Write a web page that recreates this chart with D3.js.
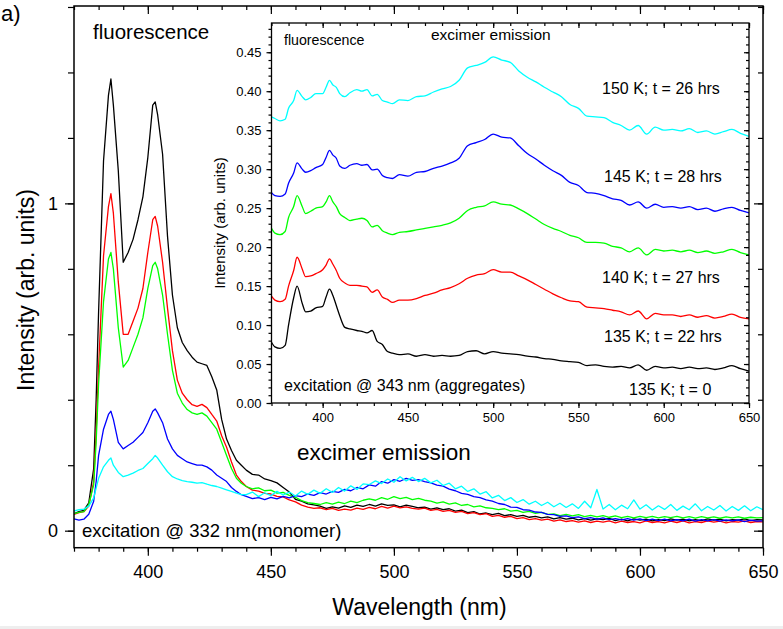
<!DOCTYPE html>
<html lang="en">
<head>
    <meta charset="UTF-8">
    <script src="https://d3js.org/d3.v7.min.js"></script>
    <style>
        body { margin: 0; padding: 0; background: #fff; }
        svg { display: block; font-family: Arial, "Liberation Sans", sans-serif; }
        .axis path { display: none; }
        .axis line { stroke: #000; stroke-width: 1.2; }
        .axis text { fill: #000; }
    </style>
</head>
<body>
<div id="chart"></div>
<script>
    // ---- main plot data (excitation 332 nm) ----
    const mainWl = [
        370,372,374,376,378,379,380,382,384,385,
        386,388,390,392,394,396,398,400,402,403,
        404,406,408,410,412,414,416,418,420,422,
        424,426,428,430,432,434,436,438,
        440,442.5,445,447.5,450,452.5,455,457.5,460,462.5,
        465,467.5,470,472.5,475,477.5,480,482.5,485,487.5,
        490,492.5,495,497.5,500,502.5,505,507.5,510,512.5,
        515,517.5,520,522.5,525,527.5,530,532.5,535,537.5,
        540,542.5,545,547.5,550,552.5,555,557.5,560,562.5,
        565,567.5,570,572.5,575,577.5,580,582.5,585,587.5,
        590,592.5,595,597.5,600,602.5,605,607.5,610,612.5,
        615,617.5,620,622.5,625,627.5,630,632.5,635,637.5,
        640,642.5,645,647.5,650
    ];
    const mainBlack = [
        0.052,0.058,0.062,0.085,0.19,0.40,0.67,1.13,1.33,1.38,
        1.30,1.10,0.82,0.85,0.89,0.95,1.02,1.14,1.30,1.31,
        1.27,1.15,0.90,0.72,0.62,0.575,0.55,0.53,0.515,0.51,
        0.505,0.47,0.43,0.34,0.28,0.245,0.215,0.20,
        0.185,0.172,0.170,0.158,0.153,0.146,0.132,0.118,0.096,0.090,
        0.082,0.079,0.075,0.068,0.073,0.069,0.076,0.071,0.078,0.074,
        0.080,0.075,0.082,0.077,0.079,0.073,0.078,0.074,0.070,0.072,
        0.066,0.070,0.064,0.067,0.060,0.063,0.055,0.058,0.051,0.054,
        0.049,0.053,0.046,0.049,0.044,0.047,0.041,0.044,0.039,0.042,
        0.036,0.040,0.035,0.038,0.033,0.037,0.032,0.036,0.034,0.038,
        0.031,0.035,0.030,0.036,0.032,0.035,0.030,0.034,0.031,0.036,
        0.032,0.035,0.030,0.034,0.031,0.036,0.032,0.035,0.030,0.034,
        0.032,0.036,0.031,0.034,0.033
    ];
    const mainRed = [
        0.05,0.055,0.058,0.075,0.15,0.30,0.50,0.84,0.99,1.03,
        0.97,0.76,0.60,0.60,0.64,0.68,0.74,0.85,0.95,0.96,
        0.93,0.82,0.68,0.55,0.46,0.42,0.40,0.385,0.38,0.386,
        0.376,0.355,0.335,0.29,0.255,0.21,0.17,0.15,
        0.135,0.124,0.121,0.114,0.112,0.105,0.103,0.094,0.088,0.078,
        0.072,0.068,0.070,0.064,0.068,0.062,0.066,0.063,0.069,0.065,
        0.071,0.067,0.074,0.069,0.075,0.070,0.073,0.068,0.066,0.069,
        0.062,0.065,0.059,0.062,0.056,0.059,0.052,0.055,0.049,0.052,
        0.044,0.047,0.041,0.044,0.037,0.040,0.034,0.037,0.032,0.035,
        0.029,0.033,0.028,0.031,0.026,0.030,0.025,0.029,0.026,0.030,
        0.024,0.029,0.025,0.028,0.024,0.030,0.025,0.028,0.024,0.029,
        0.025,0.030,0.024,0.028,0.025,0.030,0.026,0.029,0.024,0.028,
        0.026,0.030,0.025,0.028,0.027
    ];
    const mainGreen = [
        0.052,0.056,0.058,0.08,0.14,0.27,0.45,0.70,0.83,0.85,
        0.80,0.62,0.50,0.52,0.56,0.60,0.65,0.74,0.81,0.82,
        0.80,0.72,0.60,0.49,0.42,0.39,0.37,0.36,0.355,0.36,
        0.35,0.33,0.31,0.27,0.23,0.19,0.16,0.145,
        0.135,0.128,0.131,0.122,0.124,0.115,0.117,0.108,0.102,0.092,
        0.086,0.083,0.080,0.086,0.081,0.087,0.083,0.090,0.086,0.093,
        0.097,0.093,0.101,0.096,0.104,0.098,0.102,0.095,0.099,0.093,
        0.090,0.084,0.088,0.081,0.085,0.077,0.080,0.073,0.076,0.070,
        0.068,0.064,0.067,0.060,0.062,0.056,0.059,0.053,0.056,0.050,
        0.051,0.046,0.050,0.045,0.049,0.043,0.047,0.042,0.046,0.041,
        0.045,0.040,0.044,0.039,0.044,0.040,0.044,0.039,0.043,0.040,
        0.044,0.039,0.043,0.038,0.043,0.039,0.042,0.038,0.042,0.039,
        0.042,0.038,0.041,0.039,0.040
    ];
    const mainBlue = [
        0.036,0.032,0.035,0.05,0.09,0.15,0.23,0.31,0.355,0.365,
        0.34,0.27,0.25,0.26,0.27,0.285,0.30,0.33,0.365,0.372,
        0.36,0.33,0.28,0.25,0.23,0.22,0.21,0.205,0.20,0.20,
        0.195,0.185,0.17,0.16,0.15,0.132,0.12,0.11,
        0.105,0.098,0.101,0.095,0.102,0.097,0.105,0.100,0.107,0.104,
        0.112,0.108,0.116,0.112,0.120,0.117,0.126,0.122,0.132,0.128,
        0.140,0.136,0.150,0.145,0.156,0.151,0.160,0.154,0.156,0.150,
        0.146,0.139,0.136,0.127,0.122,0.114,0.111,0.104,0.101,0.094,
        0.090,0.083,0.080,0.072,0.071,0.064,0.063,0.057,0.056,0.050,
        0.049,0.044,0.045,0.040,0.042,0.037,0.040,0.035,0.039,0.034,
        0.037,0.033,0.037,0.032,0.036,0.031,0.035,0.031,0.035,0.030,
        0.034,0.030,0.035,0.029,0.034,0.030,0.034,0.029,0.033,0.030,
        0.033,0.028,0.032,0.029,0.030
    ];
    const mainCyan = [
        0.06,0.064,0.066,0.075,0.10,0.13,0.16,0.195,0.215,0.222,
        0.20,0.178,0.165,0.17,0.176,0.184,0.19,0.205,0.22,0.23,
        0.222,0.20,0.18,0.165,0.158,0.153,0.15,0.148,0.145,0.147,
        0.142,0.138,0.135,0.13,0.125,0.12,0.115,0.11,
        0.110,0.118,0.104,0.116,0.107,0.120,0.109,0.118,0.106,0.121,
        0.111,0.124,0.114,0.128,0.117,0.132,0.121,0.137,0.126,0.143,
        0.141,0.152,0.144,0.158,0.148,0.165,0.152,0.163,0.150,0.160,
        0.146,0.154,0.138,0.145,0.128,0.136,0.120,0.128,0.112,0.119,
        0.100,0.108,0.092,0.101,0.086,0.095,0.081,0.090,0.077,0.087,
        0.073,0.084,0.071,0.082,0.068,0.090,0.070,0.126,0.066,0.080,
        0.064,0.078,0.067,0.094,0.066,0.079,0.063,0.076,0.065,0.080,
        0.062,0.075,0.064,0.082,0.061,0.074,0.063,0.077,0.060,0.074,
        0.062,0.076,0.061,0.073,0.064
    ];
    const mainYTicks = [0, 1];

    // ---- inset data (excitation 343 nm, aggregates) ----
    const insetWl = [
        370,372,375,378,380,383,385,388,390,393,
        396,400,402,404,406,408,410,413,416,420,
        423,426,429,432,435,438,441,445,450,455,
        460,465,470,475,480,485,490,495,500,505,
        510,515,520,525,530,535,540,545,550,555,
        560,565,570,575,580,585,590,595,600,605,
        610,615,620,625,630,635,640,645,650
    ];
    const insetCyan = [
        0.367,0.365,0.362,0.364,0.378,0.388,0.401,0.393,0.389,0.392,
        0.397,0.397,0.405,0.414,0.408,0.405,0.397,0.393,0.398,0.402,
        0.400,0.402,0.394,0.396,0.388,0.386,0.384,0.389,0.388,0.393,
        0.394,0.399,0.403,0.406,0.414,0.430,0.433,0.437,0.444,0.440,
        0.437,0.426,0.418,0.412,0.405,0.399,0.393,0.383,0.378,0.368,
        0.367,0.366,0.360,0.356,0.350,0.356,0.345,0.354,0.350,0.351,
        0.349,0.352,0.347,0.349,0.345,0.348,0.351,0.346,0.342
    ];
    const insetBlue = [
        0.270,0.266,0.265,0.268,0.282,0.295,0.308,0.300,0.296,0.298,
        0.302,0.306,0.315,0.324,0.318,0.314,0.304,0.301,0.305,0.307,
        0.305,0.306,0.299,0.300,0.292,0.289,0.288,0.293,0.291,0.296,
        0.297,0.301,0.304,0.308,0.314,0.330,0.334,0.338,0.345,0.341,
        0.340,0.330,0.320,0.313,0.305,0.298,0.292,0.283,0.279,0.270,
        0.269,0.266,0.262,0.260,0.254,0.258,0.250,0.255,0.251,0.252,
        0.250,0.252,0.248,0.250,0.246,0.249,0.251,0.247,0.244
    ];
    const insetGreen = [
        0.224,0.218,0.216,0.220,0.238,0.252,0.266,0.252,0.243,0.246,
        0.250,0.252,0.258,0.266,0.258,0.252,0.243,0.238,0.234,0.236,
        0.237,0.234,0.226,0.228,0.221,0.218,0.216,0.219,0.220,0.222,
        0.224,0.226,0.228,0.231,0.237,0.247,0.251,0.253,0.258,0.255,
        0.254,0.249,0.243,0.236,0.229,0.224,0.220,0.215,0.212,0.206,
        0.206,0.205,0.201,0.199,0.194,0.199,0.190,0.197,0.195,0.196,
        0.194,0.196,0.193,0.195,0.192,0.194,0.197,0.193,0.190
    ];
    const insetRed = [
        0.137,0.132,0.130,0.133,0.150,0.170,0.187,0.172,0.162,0.163,
        0.166,0.171,0.177,0.185,0.178,0.170,0.160,0.154,0.151,0.151,
        0.150,0.149,0.142,0.145,0.136,0.133,0.129,0.132,0.132,0.134,
        0.138,0.141,0.145,0.148,0.153,0.160,0.164,0.166,0.171,0.168,
        0.168,0.163,0.158,0.152,0.146,0.140,0.135,0.131,0.130,0.123,
        0.122,0.121,0.119,0.117,0.113,0.118,0.108,0.115,0.113,0.113,
        0.111,0.113,0.110,0.112,0.109,0.111,0.114,0.110,0.108
    ];
    const insetBlack = [
        0.078,0.072,0.070,0.074,0.100,0.135,0.150,0.128,0.117,0.118,
        0.122,0.124,0.136,0.146,0.138,0.125,0.112,0.097,0.095,0.093,
        0.092,0.090,0.093,0.079,0.075,0.066,0.064,0.062,0.063,0.060,
        0.062,0.060,0.061,0.060,0.061,0.066,0.067,0.063,0.066,0.064,
        0.063,0.062,0.060,0.059,0.057,0.056,0.054,0.053,0.052,0.048,
        0.049,0.047,0.046,0.047,0.045,0.049,0.042,0.047,0.045,0.046,
        0.044,0.046,0.044,0.045,0.043,0.045,0.048,0.044,0.041
    ];
    const insetYTicks = [0, 0.05, 0.10, 0.15, 0.20, 0.25, 0.30, 0.35, 0.40, 0.45];
    const insetLabels = ["150 K; t = 26 hrs", "145 K; t = 28 hrs", "140 K; t = 27 hrs", "135 K; t = 22 hrs", "135 K; t = 0"];

    const colors = ["#000000", "#ff0000", "#00ff00", "#0000ff", "#00ffff"];
    const mainSeries = [mainBlack, mainRed, mainGreen, mainBlue, mainCyan];
    const insetSeries = [insetBlack, insetRed, insetGreen, insetBlue, insetCyan];

    mainSeries.forEach((s, i) => { if (s.length !== mainWl.length) console.warn("main series", i, s.length); });
    insetSeries.forEach((s, i) => { if (s.length !== insetWl.length) console.warn("inset series", i, s.length); });

    const W = 783, H = 629;
    const svg = d3.select("#chart").append("svg").attr("width", W).attr("height", H);

    svg.append("rect").attr("x", 0).attr("y", 626).attr("width", W).attr("height", 3).attr("fill", "#eeeeee");

    // ---- main plot ----
    const m = {left: 74, right: 763, top: 6, bottom: 547.7};
    const x = d3.scaleLinear().domain([370, 650]).range([m.left, m.right]);
    const y = d3.scaleLinear().domain([-0.052, 1.603]).range([m.bottom, m.top]);

    const xMinor = d3.range(370, 651, 10);
    const xMajor = d3.range(400, 651, 50);
    const yMinor = d3.range(0, 1.61, 0.2);

    const g = svg.append("g");

    svg.append("clipPath").attr("id", "clipMain")
        .append("rect").attr("x", m.left).attr("y", m.top)
        .attr("width", m.right - m.left).attr("height", m.bottom - m.top);

    const line = d3.line()
        .x((d, i) => x(mainWl[i]))
        .y(d => y(d));

    g.append("g").attr("clip-path", "url(#clipMain)")
        .selectAll("path")
        .data(mainSeries)
        .join("path")
        .attr("d", d => line(d))
        .attr("fill", "none")
        .attr("stroke", (d, i) => colors[i])
        .attr("stroke-width", 1.3)
        .attr("stroke-linejoin", "round");

    // axes: bottom/left outward, top/right inward
    g.append("g").attr("class", "axis").attr("transform", `translate(0,${m.bottom})`)
        .call(d3.axisBottom(x).tickValues(xMinor).tickSize(4).tickFormat(""));
    g.append("g").attr("class", "axis").attr("transform", `translate(0,${m.bottom})`)
        .call(d3.axisBottom(x).tickValues(xMajor).tickSize(8).tickPadding(10).tickFormat(d3.format("d")))
        .selectAll("text").style("font-size", "18px");
    g.append("g").attr("class", "axis").attr("transform", `translate(0,${m.top})`)
        .call(d3.axisTop(x).tickValues(xMinor).tickSize(-4).tickFormat(""));
    g.append("g").attr("class", "axis").attr("transform", `translate(0,${m.top})`)
        .call(d3.axisTop(x).tickValues(xMajor).tickSize(-8).tickFormat(""));

    g.append("g").attr("class", "axis").attr("transform", `translate(${m.left},0)`)
        .call(d3.axisLeft(y).tickValues(yMinor).tickSize(6).tickFormat(""));
    g.append("g").attr("class", "axis").attr("transform", `translate(${m.left},0)`)
        .call(d3.axisLeft(y).tickValues(mainYTicks).tickSize(9).tickPadding(7).tickFormat(d3.format("d")))
        .selectAll("text").style("font-size", "18px");
    g.append("g").attr("class", "axis").attr("transform", `translate(${m.right},0)`)
        .call(d3.axisRight(y).tickValues(yMinor).tickSize(-5).tickFormat(""));
    g.append("g").attr("class", "axis").attr("transform", `translate(${m.right},0)`)
        .call(d3.axisRight(y).tickValues(mainYTicks).tickSize(-9).tickFormat(""));

    g.append("rect")
        .attr("x", m.left).attr("y", m.top)
        .attr("width", m.right - m.left).attr("height", m.bottom - m.top)
        .attr("fill", "none").attr("stroke", "#000").attr("stroke-width", 1.5);

    g.append("text").attr("x", (m.left + m.right) / 2 + 1).attr("y", 615)
        .attr("text-anchor", "middle").style("font-size", "23px")
        .text("Wavelength (nm)");
    g.append("text").attr("transform", "translate(34,290) rotate(-90)")
        .attr("text-anchor", "middle").style("font-size", "23px")
        .text("Intensity (arb. units)");

    g.append("text").attr("x", 93).attr("y", 39).style("font-size", "20.5px").text("fluorescence");
    g.append("text").attr("x", 297).attr("y", 460).style("font-size", "22.5px").text("excimer emission");
    g.append("text").attr("x", 82).attr("y", 537).style("font-size", "18.5px").text("excitation @ 332 nm(monomer)");
    g.append("text").attr("x", 1).attr("y", 21).style("font-size", "22px").text("a)");

    // ---- inset ----
    const n = {left: 271.5, right: 749, top: 23, bottom: 403};
    const xi = d3.scaleLinear().domain([370, 650]).range([n.left, n.right]);
    const yi = d3.scaleLinear().domain([0, 0.4875]).range([n.bottom, n.top]);

    const gi = svg.append("g");
    gi.append("rect")
        .attr("x", n.left).attr("y", n.top)
        .attr("width", n.right - n.left).attr("height", n.bottom - n.top)
        .attr("fill", "#fff");

    const lineI = d3.line()
        .x((d, i) => xi(insetWl[i]))
        .y(d => yi(d))
        .curve(d3.curveMonotoneX);

    gi.append("g")
        .selectAll("path")
        .data(insetSeries)
        .join("path")
        .attr("d", d => lineI(d))
        .attr("fill", "none")
        .attr("stroke", (d, i) => colors[i])
        .attr("stroke-width", 1.3);

    const yiMinor = d3.range(0, 0.481, 0.01);
    gi.append("g").attr("class", "axis").attr("transform", `translate(0,${n.bottom})`)
        .call(d3.axisBottom(xi).tickValues(xMinor).tickSize(3).tickFormat(""));
    gi.append("g").attr("class", "axis").attr("transform", `translate(0,${n.bottom})`)
        .call(d3.axisBottom(xi).tickValues(xMajor).tickSize(5).tickPadding(5).tickFormat(d3.format("d")))
        .selectAll("text").style("font-size", "13px");
    gi.append("g").attr("class", "axis").attr("transform", `translate(0,${n.top})`)
        .call(d3.axisTop(xi).tickValues(xMinor).tickSize(-3).tickFormat(""));
    gi.append("g").attr("class", "axis").attr("transform", `translate(0,${n.top})`)
        .call(d3.axisTop(xi).tickValues(xMajor).tickSize(-5).tickFormat(""));
    gi.append("g").attr("class", "axis").attr("transform", `translate(${n.left},0)`)
        .call(d3.axisLeft(yi).tickValues(yiMinor).tickSize(3).tickFormat(""));
    gi.append("g").attr("class", "axis").attr("transform", `translate(${n.left},0)`)
        .call(d3.axisLeft(yi).tickValues(insetYTicks).tickSize(5).tickPadding(5).tickFormat(d3.format(".2f")))
        .selectAll("text").style("font-size", "13px");
    gi.append("g").attr("class", "axis").attr("transform", `translate(${n.right},0)`)
        .call(d3.axisRight(yi).tickValues(yiMinor).tickSize(-3).tickFormat(""));
    gi.append("g").attr("class", "axis").attr("transform", `translate(${n.right},0)`)
        .call(d3.axisRight(yi).tickValues(insetYTicks).tickSize(-5).tickFormat(""));

    gi.append("rect")
        .attr("x", n.left).attr("y", n.top)
        .attr("width", n.right - n.left).attr("height", n.bottom - n.top)
        .attr("fill", "none").attr("stroke", "#000").attr("stroke-width", 1.3);

    gi.append("text").attr("transform", "translate(225,223) rotate(-90)")
        .attr("text-anchor", "middle").style("font-size", "15px")
        .text("Intensity (arb. units)");
    gi.append("text").attr("x", 284).attr("y", 45).style("font-size", "14.2px").text("fluorescence");
    gi.append("text").attr("x", 431).attr("y", 40).style("font-size", "15.5px").text("excimer emission");
    gi.append("text").attr("x", 284).attr("y", 391).style("font-size", "16px").text("excitation @ 343 nm (aggregates)");

    const labelPos = [[602, 94], [604, 182], [602, 283], [604, 342], [629, 395]];
    gi.selectAll("text.lab")
        .data(insetLabels)
        .join("text")
        .attr("class", "lab")
        .attr("x", (d, i) => labelPos[i][0])
        .attr("y", (d, i) => labelPos[i][1])
        .style("font-size", "16px")
        .text(d => d);
</script>
</body>
</html>
